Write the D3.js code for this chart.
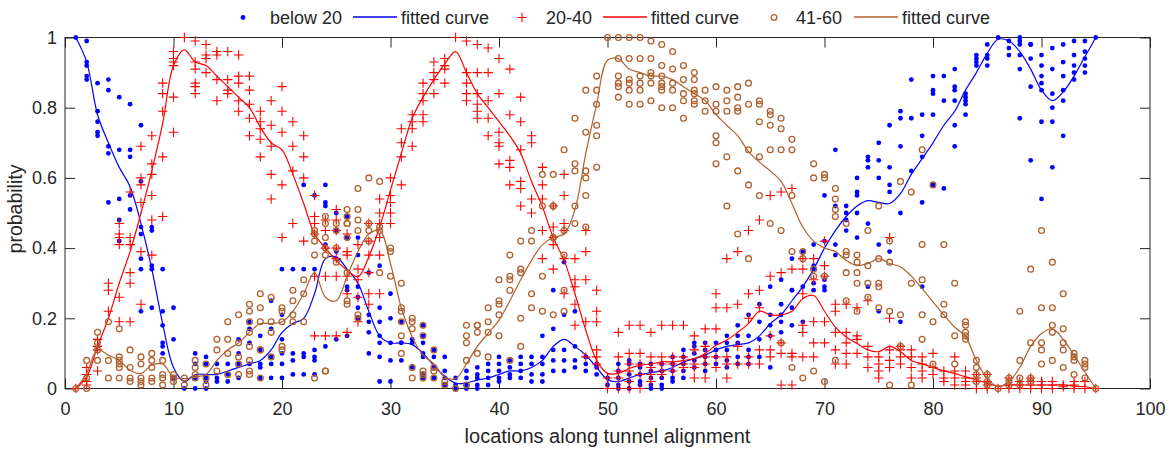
<!DOCTYPE html>
<html>
<head>
<meta charset="utf-8">
<script src="https://cdn.jsdelivr.net/npm/d3@7"></script>
<style>
body { margin: 0; background: #fff; }
svg text { font-family: "Liberation Sans", Arial, Helvetica, sans-serif; fill: #262626; }
</style>
</head>
<body>
<svg id="chart" width="1172" height="452"></svg>
<script>
// locations along the tunnel (x)
var locations = [1,2,3,4,5,6,7,8,9,10,11,12,13,14,15,16,17,18,19,20,21,22,23,24,25,26,27,28,29,30,
	31,32,33,34,35,36,37,38,39,40,41,42,43,44,45,46,47,48,49,50,51,52,53,54,55,56,57,58,59,60,
	61,62,63,64,65,66,67,68,69,70,71,72,73,74,75,76,77,78,79,80,81,82,83,84,85,86,87,88,89,90,
	91,92,93,94,95];

var xTicks = [0,10,20,30,40,50,60,70,80,90,100];
var yTicks = [0,0.2,0.4,0.6,0.8,1];
var yTickLabels = ["0","0.2","0.4","0.6","0.8","1"];
var seriesNames = ["below 20","20-40","41-60"];

// probabilities per location (one list of values per location)
var below20 = [
	[1.0],[0.99,0.93,0.92,0.89,0.88],[0.87,0.79,0.76,0.73,0.72],[0.88,0.85,0.69,0.67,0.53],[0.83,0.68,0.54,0.48,0.42],
	[0.81,0.68,0.66,0.55,0.51],[0.75,0.59,0.46,0.44,0.37,0.34,0.22],[0.46,0.45,0.35,0.34,0.23],[0.34,0.22,0.18,0.13,0.12,0.10],[0.23,0.14,0.03],
	[0.0],[0.10,0.07,0.03,0.0],[0.09,0.07,0.03,0.02,0.0],[0.07,0.03,0.02],[0.07,0.04,0.02],
	[0.14,0.10,0.07,0.03],[0.19,0.17,0.13,0.07],[0.15,0.11,0.07,0.06,0.03],[0.25,0.17,0.09,0.07,0.03],[0.34,0.21,0.14,0.10,0.07,0.03],
	[0.34,0.10,0.08,0.04],[0.58,0.34,0.10,0.09,0.04],[0.55,0.34,0.11,0.09,0.08,0.04],[0.58,0.53,0.52,0.41,0.12],[0.50,0.45,0.39,0.37,0.14],
	[0.49,0.43,0.29,0.28,0.15],[0.43,0.38,0.29,0.26,0.23,0.20],[0.33,0.21,0.19,0.16,0.10],[0.35,0.23,0.19,0.15,0.13,0.09,0.02],[0.27,0.20,0.13,0.08,0.02],
	[0.19,0.13,0.13,0.08],[0.14,0.13,0.06],[0.18,0.15,0.13,0.10,0.09,0.04,0.03],[0.11,0.09,0.06,0.03],[0.09,0.05,0.03,0.01],
	[0.03,0.01,0.0],[0.05,0.03,0.01,0.0],[0.06,0.04,0.03,0.01,0.0],[0.07,0.05,0.03,0.01],[0.09,0.07,0.05,0.03,0.02],
	[0.08,0.06,0.04,0.03],[0.09,0.07,0.05,0.03],[0.09,0.07,0.04,0.02],[0.15,0.09,0.07,0.04,0.02],[0.28,0.17,0.11,0.08,0.05],
	[0.36,0.21,0.11,0.08,0.05],[0.22,0.12,0.08,0.06],[0.09,0.09,0.07,0.05],[0.07,0.06,0.04],[0.03,0.01],
	[0.07,0.05,0.03,0.01,0.0],[0.08,0.07,0.04,0.02,0.0],[0.07,0.06,0.04,0.02,0.01],[0.07,0.05,0.03,0.01,0.0],[0.07,0.05,0.03,0.01,0.0],
	[0.09,0.07,0.05,0.03,0.02],[0.11,0.09,0.07,0.05,0.03],[0.13,0.12,0.10,0.08,0.06],[0.13,0.11,0.09,0.07,0.05],[0.13,0.11,0.09,0.07],
	[0.15,0.13,0.11,0.08,0.06],[0.18,0.15,0.13,0.09,0.07],[0.21,0.15,0.11,0.09,0.07],[0.24,0.19,0.14,0.09],[0.29,0.21,0.18,0.15,0.06],
	[0.31,0.24,0.21,0.19,0.16],[0.37,0.28,0.28,0.23,0.18],[0.39,0.29,0.19],[0.41,0.35,0.34,0.30,0.28],[0.55,0.42,0.31,0.29,0.28],
	[0.68,0.52,0.41,0.38],[0.52,0.50,0.48,0.45],[0.60,0.56,0.55,0.50,0.43],[0.66,0.65,0.63,0.47,0.29],[0.70,0.65,0.60,0.41,0.22],
	[0.75,0.63,0.58,0.56,0.39],[0.79,0.77,0.69,0.50,0.19],[0.88,0.77,0.62],[0.78,0.72,0.66,0.53,0.29],[0.89,0.85,0.84,0.78,0.58],
	[0.89,0.82,0.57],[0.91,0.86,0.85,0.82,0.75,0.69],[0.84,0.83,0.82,0.81,0.78],[0.95,0.94,0.93,0.92],[0.98,0.95,0.94,0.92],
	[1.0],[0.99,0.97,0.95],[1.0,0.99,0.98,0.95,0.91,0.77],[0.98,0.98,0.94,0.86,0.65],[0.95,0.92,0.89,0.87,0.85,0.76,0.54],
	[0.97,0.91,0.84,0.80,0.76,0.63],[0.98,0.93,0.89,0.85,0.82,0.72],[0.99,0.95,0.92,0.90,0.88],[0.99,0.96,0.94,0.92,0.90],[1.0]
];

var from20to40 = [
	[0.0],[0.06,0.04,0.02,0.01],[0.14,0.12,0.11,0.05],[0.30,0.28,0.22],[0.47,0.44,0.43,0.41,0.26,0.19],
	[0.56,0.43,0.41,0.33,0.30,0.19],[0.69,0.60,0.58,0.53,0.39,0.24],[0.72,0.64,0.61,0.55,0.48,0.38],[0.87,0.84,0.79,0.66,0.49],[0.96,0.94,0.93,0.92,0.83,0.73],
	[1.0],[0.99,0.93,0.91,0.87,0.86,0.84],[0.98,0.95,0.94,0.90],[0.96,0.95,0.88,0.82],[0.96,0.88,0.85,0.84],
	[0.95,0.89,0.87,0.82,0.79],[0.89,0.85,0.81,0.77,0.72],[0.79,0.76,0.74,0.71,0.66],[0.82,0.75,0.69,0.61,0.54],[0.86,0.79,0.73,0.58,0.43],
	[0.76,0.69,0.62,0.47],[0.72,0.66,0.60,0.42],[0.55,0.49,0.47,0.44,0.32,0.15],[0.48,0.45,0.40,0.32,0.15],[0.51,0.48,0.45,0.40,0.37,0.32,0.15],
	[0.44,0.39,0.38,0.32,0.27,0.16],[0.41,0.34,0.31,0.26,0.19],[0.47,0.42,0.38,0.33,0.27,0.24],[0.54,0.50,0.47,0.43,0.38,0.27],[0.60,0.55,0.53,0.50,0.47],
	[0.74,0.70,0.66,0.58],[0.78,0.76,0.74,0.69],[0.87,0.84,0.82,0.78,0.76],[0.93,0.90,0.88,0.84],[0.94,0.92,0.91,0.87],
	[1.0],[0.99,0.90,0.87,0.84,0.82],[0.98,0.90,0.84,0.81,0.79,0.77],[0.97,0.90,0.82,0.77,0.72],[0.94,0.84,0.73,0.70,0.69,0.64],
	[0.91,0.78,0.65,0.63,0.58],[0.83,0.76,0.68,0.59,0.57,0.52],[0.72,0.70,0.54,0.50],[0.63,0.58,0.54,0.45,0.37],[0.52,0.46,0.43,0.41,0.34],
	[0.61,0.55,0.47,0.45,0.37,0.27],[0.37,0.31,0.29,0.24,0.18],[0.45,0.39,0.31,0.19,0.09],[0.28,0.22,0.19,0.11,0.09,0.07],[0.03,0.0],
	[0.16,0.09,0.05,0.03,0.0],[0.18,0.10,0.07,0.05,0.02,0.0],[0.18,0.10,0.07,0.04,0.0],[0.16,0.09,0.06,0.04,0.02],[0.18,0.09,0.07,0.05,0.04],
	[0.18,0.09,0.07,0.05],[0.18,0.09,0.07,0.06],[0.15,0.11,0.07,0.06,0.03],[0.17,0.12,0.09,0.07,0.03],[0.27,0.23,0.17,0.09,0.06],
	[0.37,0.23,0.09,0.07,0.03],[0.39,0.24,0.12,0.07],[0.45,0.27,0.20,0.09,0.07],[0.48,0.28,0.23,0.11,0.07],[0.55,0.32,0.15,0.11,0.09],
	[0.56,0.33,0.13,0.10,0.01],[0.57,0.34,0.10,0.09,0.01],[0.37,0.34,0.27,0.18,0.16,0.09],[0.37,0.31,0.19,0.13,0.09],[0.42,0.35,0.32,0.19,0.13],
	[0.24,0.22,0.16,0.11,0.07],[0.24,0.16,0.13,0.10,0.07],[0.23,0.15,0.14,0.10],[0.25,0.12,0.09,0.06],[0.09,0.07,0.05,0.03],
	[0.43,0.20,0.11,0.08,0.06],[0.12,0.11,0.09,0.07],[0.11,0.09,0.06,0.03],[0.09,0.07,0.05,0.03],[0.10,0.06,0.04],
	[0.05,0.03,0.02],[0.09,0.05,0.03,0.01],[0.05,0.03,0.02,0.01],[0.04,0.03,0.02,0.0],[0.04,0.02,0.01,0.0],
	[0.0],[0.03,0.01,0.0],[0.02,0.01,0.0],[0.03,0.02,0.01,0.0],[0.02,0.01,0.0],
	[0.02,0.01,0.0],[0.01,0.005],[0.02,0.01,0.0],[0.02,0.0],[0.0]
];

var from41to60 = [
	[0.0],[0.08,0.03,0.0],[0.16,0.13,0.11,0.08],[0.19,0.08,0.03],[0.17,0.09,0.08,0.07,0.06,0.03],
	[0.11,0.06,0.03,0.02],[0.09,0.07,0.03,0.02,0.01],[0.10,0.08,0.06,0.03,0.02],[0.08,0.04,0.03,0.01],[0.04,0.03,0.02],
	[0.03,0.01],[0.08,0.06,0.04,0.03],[0.07,0.03,0.01],[0.14,0.11,0.05],[0.19,0.14,0.10,0.04],
	[0.21,0.13,0.09,0.07,0.04],[0.24,0.22,0.19,0.16,0.12,0.08,0.05,0.04],[0.27,0.23,0.19,0.11,0.11,0.03],[0.26,0.19,0.16,0.09],[0.23,0.22,0.19,0.12,0.11],
	[0.28,0.25,0.21,0.19],[0.31,0.27,0.19],[0.45,0.44,0.42,0.38,0.03],[0.49,0.47,0.43,0.40,0.38,0.05,0.05],[0.47,0.45,0.40,0.36],
	[0.51,0.49,0.47,0.47,0.43,0.33,0.25,0.24],[0.57,0.51,0.48,0.45,0.21,0.20],[0.60,0.47,0.45,0.42],[0.59,0.46,0.45,0.33],[0.40,0.39,0.32],
	[0.30,0.23,0.22,0.19,0.15,0.10],[0.20,0.19,0.17,0.06,0.03],[0.18,0.15,0.05,0.04,0.03],[0.11,0.06,0.05,0.03],[0.02,0.01],
	[0.0],[0.18,0.15,0.13,0.08,0.01],[0.18,0.18,0.16,0.10],[0.23,0.19,0.16,0.09],[0.31,0.25,0.24,0.21,0.15],
	[0.38,0.32,0.31,0.28,0.08],[0.42,0.34,0.33,0.20,0.12],[0.45,0.42,0.27,0.23],[0.61,0.52,0.32,0.22],[0.61,0.52,0.52,0.43,0.43,0.21],
	[0.68,0.45,0.38,0.28,0.22],[0.77,0.64,0.62,0.52,0.47],[0.85,0.73,0.62,0.60,0.55,0.46],[0.89,0.85,0.81,0.75,0.72,0.63],[1.0],
	[1.0,0.94,0.89,0.87,0.86,0.83],[1.0,0.94,0.88,0.87,0.85,0.81],[1.0,0.94,0.89,0.87,0.85,0.81],[0.99,0.94,0.90,0.89,0.87,0.82],[0.98,0.92,0.89,0.87,0.86,0.85,0.80],
	[0.96,0.91,0.87,0.85,0.80],[0.92,0.88,0.84,0.82,0.77],[0.90,0.88,0.85,0.84,0.82,0.81],[0.85,0.82,0.79],[0.86,0.81,0.79,0.72,0.70,0.64],
	[0.85,0.82,0.79,0.66,0.52],[0.86,0.83,0.80,0.79,0.62,0.44],[0.87,0.81,0.68,0.58,0.37],[0.82,0.81,0.76,0.66,0.55],[0.79,0.78,0.75,0.68,0.47],
	[0.77,0.74,0.68,0.45,0.13],[0.71,0.68,0.55,0.39,0.06],[0.39,0.37,0.03],[0.64,0.60,0.34,0.32,0.05],[0.61,0.60,0.32,0.02],
	[0.57,0.54,0.51,0.49,0.08],[0.47,0.39,0.38,0.33,0.25],[0.38,0.36,0.33,0.30,0.22],[0.45,0.35,0.30,0.26],[0.52,0.37,0.30,0.29,0.23],
	[0.42,0.36,0.22,0.01],[0.59,0.21,0.12],[0.56,0.30,0.01],[0.68,0.41,0.31,0.21,0.14],[0.58,0.19,0.07],
	[0.41,0.24,0.21],[0.30,0.15,0.07],[0.19,0.18,0.16,0.15,0.14],[0.08,0.06,0.04,0.02],[0.04,0.02,0.01],
	[0.0],[0.03,0.02,0.01],[0.22,0.08,0.03,0.01],[0.34,0.13,0.03,0.02],[0.45,0.23,0.13,0.11,0.07],
	[0.36,0.23,0.18,0.16,0.08],[0.27,0.17,0.13,0.11,0.06],[0.10,0.09,0.08,0.04],[0.08,0.07,0.06,0.03],[0.0]
];

// fitted curves, one value per location
var fitBelow20 = [1.0,0.93,0.78,0.70,0.63,0.575,0.47,0.34,0.185,0.06,
	0.02,0.04,0.04,0.04,0.05,0.06,0.07,0.08,0.11,0.16,
	0.185,0.20,0.27,0.37,0.375,0.34,0.30,0.22,0.15,0.13,
	0.13,0.125,0.10,0.065,0.035,0.015,0.016,0.024,0.03,0.04,
	0.05,0.05,0.06,0.08,0.12,0.14,0.12,0.095,0.06,0.025,
	0.02,0.03,0.04,0.045,0.05,0.06,0.075,0.085,0.095,0.11,
	0.12,0.125,0.13,0.15,0.185,0.21,0.25,0.29,0.34,0.40,
	0.45,0.49,0.52,0.535,0.53,0.527,0.555,0.61,0.655,0.70,
	0.75,0.79,0.85,0.90,0.955,0.995,0.99,0.96,0.91,0.85,
	0.82,0.845,0.89,0.945,1.0];

var fit20to40 = [0,0.033,0.12,0.20,0.30,0.39,0.50,0.62,0.755,0.92,
	0.965,0.93,0.92,0.89,0.86,0.83,0.80,0.745,0.70,0.68,
	0.61,0.527,0.44,0.40,0.365,0.337,0.318,0.375,0.46,0.565,
	0.67,0.77,0.83,0.88,0.925,0.96,0.90,0.84,0.80,0.76,
	0.72,0.67,0.59,0.518,0.43,0.365,0.27,0.166,0.08,0.043,
	0.043,0.057,0.066,0.07,0.076,0.076,0.08,0.085,0.10,0.123,
	0.138,0.16,0.185,0.22,0.21,0.21,0.22,0.256,0.265,0.22,
	0.175,0.147,0.128,0.11,0.105,0.12,0.105,0.08,0.07,0.06,
	0.05,0.043,0.033,0.025,0.015,0.007,0.01,0.01,0.01,0.01,
	0.01,0.01,0.007,0.005,0];

var fit41to60 = [0,0.043,0.11,0.095,0.08,0.052,0.043,0.067,0.07,0.033,
	0.028,0.033,0.04,0.08,0.11,0.13,0.16,0.185,0.185,0.19,
	0.22,0.27,0.33,0.26,0.25,0.32,0.39,0.44,0.45,0.356,
	0.23,0.147,0.095,0.07,0.033,0.028,0.07,0.12,0.157,0.195,
	0.25,0.31,0.365,0.41,0.43,0.44,0.51,0.67,0.81,0.935,
	0.94,0.91,0.90,0.89,0.89,0.88,0.86,0.84,0.82,0.78,
	0.75,0.72,0.675,0.645,0.62,0.59,0.527,0.46,0.42,0.40,
	0.39,0.365,0.35,0.356,0.37,0.356,0.347,0.32,0.285,0.247,
	0.21,0.175,0.147,0.08,0.028,0.005,0.02,0.06,0.12,0.157,
	0.17,0.14,0.095,0.047,0];

var colors = ["#0000ff", "#ff0000", "#b0602e"];

var svg = d3.select("#chart");
var plotLeft = 65, plotRight = 1150, plotTop = 37.5, plotBottom = 388.5;

var x = d3.scaleLinear().domain([0, 100]).range([plotLeft, plotRight]);
var y = d3.scaleLinear().domain([0, 1]).range([plotBottom, plotTop]);

function points(groups) {
	return groups.flatMap(function(ys, i) {
		return ys.map(function(v) { return [locations[i], v]; });
	});
}

// axes, ticks pointing inward on all four sides
var axisColor = "#262626";
function styleAxis(g, withText) {
	g.select(".domain").remove();
	g.selectAll(".tick line").attr("stroke", axisColor);
	g.selectAll("text").style("font-size", "18px").attr("fill", axisColor);
	if (!withText) g.selectAll("text").remove();
}

svg.append("g")
	.attr("transform", "translate(0," + plotBottom + ")")
	.call(d3.axisBottom(x).tickValues(xTicks).tickSize(-10).tickPadding(14).tickFormat(d3.format("d")))
	.call(styleAxis, true);
svg.append("g")
	.attr("transform", "translate(0," + plotTop + ")")
	.call(d3.axisTop(x).tickValues(xTicks).tickSize(-10))
	.call(styleAxis, false);
svg.append("g")
	.attr("transform", "translate(" + plotLeft + ",0)")
	.call(d3.axisLeft(y).tickValues(yTicks).tickSize(-10).tickPadding(8).tickFormat(function(d, i) { return yTickLabels[i]; }))
	.call(styleAxis, true);
svg.append("g")
	.attr("transform", "translate(" + plotRight + ",0)")
	.call(d3.axisRight(y).tickValues(yTicks).tickSize(-10))
	.call(styleAxis, false);

svg.append("rect")
	.attr("x", plotLeft).attr("y", plotTop)
	.attr("width", plotRight - plotLeft).attr("height", plotBottom - plotTop)
	.attr("fill", "none").attr("stroke", axisColor).attr("stroke-width", 1);

var line = d3.line()
	.x(function(d) { return x(d[0]); })
	.y(function(d) { return y(d[1]); })
	.curve(d3.curveCatmullRom.alpha(0.5));

function curve(values, color) {
	svg.append("path")
		.datum(values.map(function(v, i) { return [locations[i], v]; }))
		.attr("d", line)
		.attr("fill", "none")
		.attr("stroke", color)
		.attr("stroke-width", 1.2);
}

// below 20: filled dots
svg.append("g").selectAll("circle")
	.data(points(below20)).enter()
	.append("circle")
	.attr("cx", function(d) { return x(d[0]); })
	.attr("cy", function(d) { return y(d[1]); })
	.attr("r", 2.4)
	.attr("fill", colors[0]);
curve(fitBelow20, colors[0]);

// 20-40: plus signs
var plusPath = "M-4.7,0H4.7M0,-4.7V4.7";
svg.append("g").selectAll("path")
	.data(points(from20to40)).enter()
	.append("path")
	.attr("transform", function(d) { return "translate(" + x(d[0]) + "," + y(d[1]) + ")"; })
	.attr("d", plusPath)
	.attr("stroke", colors[1])
	.attr("stroke-width", 1.1);
curve(fit20to40, colors[1]);

// 41-60: open circles
svg.append("g").selectAll("circle")
	.data(points(from41to60)).enter()
	.append("circle")
	.attr("cx", function(d) { return x(d[0]); })
	.attr("cy", function(d) { return y(d[1]); })
	.attr("r", 2.9)
	.attr("fill", "none")
	.attr("stroke", colors[2])
	.attr("stroke-width", 1.3);
curve(fit41to60, colors[2]);

// axis titles
svg.append("text")
	.attr("x", (plotLeft + plotRight) / 2).attr("y", 443)
	.attr("text-anchor", "middle")
	.style("font-size", "20px")
	.text("locations along tunnel alignment");
svg.append("text")
	.attr("transform", "translate(22," + 209 + ") rotate(-90)")
	.attr("text-anchor", "middle")
	.style("font-size", "19.5px")
	.text("probability");

// legend
var legend = svg.append("g").attr("transform", "translate(0,17)");
var legendItems = [
	{ marker: 243, label: seriesNames[0], lx: 270, line: [353, 397], fx: 401 },
	{ marker: 522, label: seriesNames[1], lx: 546, line: [603, 647], fx: 651 },
	{ marker: 774, label: seriesNames[2], lx: 796, line: [854, 898], fx: 902 }
];
legendItems.forEach(function(it, i) {
	if (i == 0) legend.append("circle").attr("cx", it.marker).attr("cy", 0.5).attr("r", 2.4).attr("fill", colors[0]);
	if (i == 1) legend.append("path").attr("transform", "translate(" + it.marker + ",0.5)").attr("d", plusPath).attr("stroke", colors[1]).attr("stroke-width", 1.1);
	if (i == 2) legend.append("circle").attr("cx", it.marker).attr("cy", 0.5).attr("r", 2.9).attr("fill", "none").attr("stroke", colors[2]).attr("stroke-width", 1.3);
	legend.append("text").attr("x", it.lx).attr("y", 7).style("font-size", "18px").text(it.label);
	legend.append("line").attr("x1", it.line[0]).attr("x2", it.line[1]).attr("y1", 0).attr("y2", 0)
		.attr("stroke", colors[i]).attr("stroke-width", 1.3);
	legend.append("text").attr("x", it.fx).attr("y", 7).style("font-size", "18px").text("fitted curve");
});
</script>
</body>
</html>
